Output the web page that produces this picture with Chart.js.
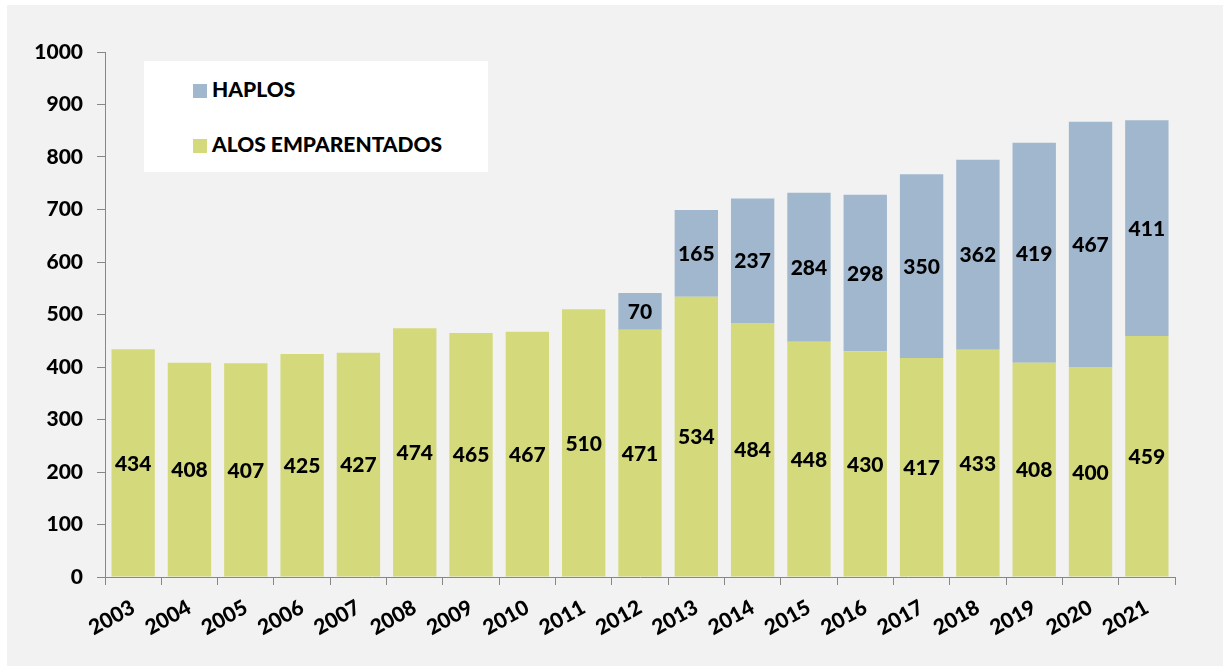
<!DOCTYPE html>
<html>
<head>
<meta charset="utf-8">
<script src="https://cdn.jsdelivr.net/npm/chart.js@4"></script>
<style>
  body { margin: 0; background: #fff; }
  #panel { position: absolute; left: 7px; top: 5px; width: 1216px; height: 661px; background: #f2f2f2; }
  #legend { position: absolute; left: 137px; top: 56px; width: 344px; height: 111px; background: #fff;
            font-family: Lato, sans-serif; font-weight: 900; font-size: 21px; color: #000; }
  .item { position: absolute; left: 49px; white-space: nowrap; }
  .sw { display: inline-block; width: 14px; height: 14px; margin-right: 5px; vertical-align: -1px; }
</style>
</head>
<body>
<div id="panel">
  <canvas id="myChart" width="1216" height="661"></canvas>
  <div id="legend">
    <div class="item" style="top:15px"><span class="sw" style="background:#a0b7cd"></span>HAPLOS</div>
    <div class="item" style="top:70px"><span class="sw" style="background:#d4da7c"></span>ALOS EMPARENTADOS</div>
  </div>
</div>
<script>
// data
const years = ['2003','2004','2005','2006','2007','2008','2009','2010','2011','2012',
               '2013','2014','2015','2016','2017','2018','2019','2020','2021']
const alos = [434, 408, 407, 425, 427, 474, 465, 467, 510, 471, 534, 484, 448, 430, 417, 433, 408, 400, 459]
const haplos = [null, null, null, null, null, null, null, null, null, 70, 165, 237, 284, 298, 350, 362, 419, 467, 411]
const yTicks = [0, 100, 200, 300, 400, 500, 600, 700, 800, 900, 1000]

const green = '#d4da7c'
const blue = '#a0b7cd'
const axisGray = '#878787'
const boldFont = { family: 'Lato', weight: 900, size: 21 }

// values in the middle of each bar piece
const barLabels = {
    id: 'barLabels',
    afterDatasetsDraw(chart) {
        const ctx = chart.ctx
        ctx.save()
        ctx.font = '900 21px Lato'
        ctx.fillStyle = '#000'
        ctx.textAlign = 'center'
        ctx.textBaseline = 'middle'
        chart.data.datasets.forEach(function (ds, i) {
            chart.getDatasetMeta(i).data.forEach(function (bar, j) {
                const v = ds.data[j]
                if (!v) return
                ctx.fillText(v, bar.x, (bar.y + bar.base) / 2 + 1)
            })
        })
        ctx.restore()
    }
}

const ctx = document.getElementById('myChart')
let myChart = new Chart(ctx, {
    type: 'bar',
    data: {
        labels: years,
        datasets: [{
            label: 'ALOS EMPARENTADOS',
            data: alos,
            backgroundColor: green,
            barPercentage: 0.77,
            categoryPercentage: 1
        }, {
            label: 'HAPLOS',
            data: haplos,
            backgroundColor: blue,
            barPercentage: 0.77,
            categoryPercentage: 1
        }]
    },
    options: {
        responsive: false,
        animation: false,
        layout: { padding: { left: 0, top: 47, right: 48, bottom: 0 } },
        plugins: {
            legend: { display: false },
            tooltip: { enabled: false }
        },
        scales: {
            x: {
                stacked: true,
                grid: { drawOnChartArea: false, tickLength: 8, color: axisGray },
                border: { color: axisGray },
                ticks: {
                    color: '#000',
                    font: boldFont,
                    autoSkip: false,
                    minRotation: 29,
                    maxRotation: 29,
                    padding: 10
                },
                afterFit(scale) { scale.height = 89 }
            },
            y: {
                stacked: true,
                min: 0,
                max: 1000,
                afterBuildTicks(scale) { scale.ticks = yTicks.map(v => ({ value: v })) },
                grid: { drawOnChartArea: false, tickLength: 8, color: axisGray },
                border: { color: axisGray },
                ticks: {
                    color: '#000',
                    font: boldFont,
                    padding: 14,
                    callback: v => String(v)
                },
                afterFit(scale) { scale.width = 98 }
            }
        }
    },
    plugins: [barLabels]
})
</script>
</body>
</html>
